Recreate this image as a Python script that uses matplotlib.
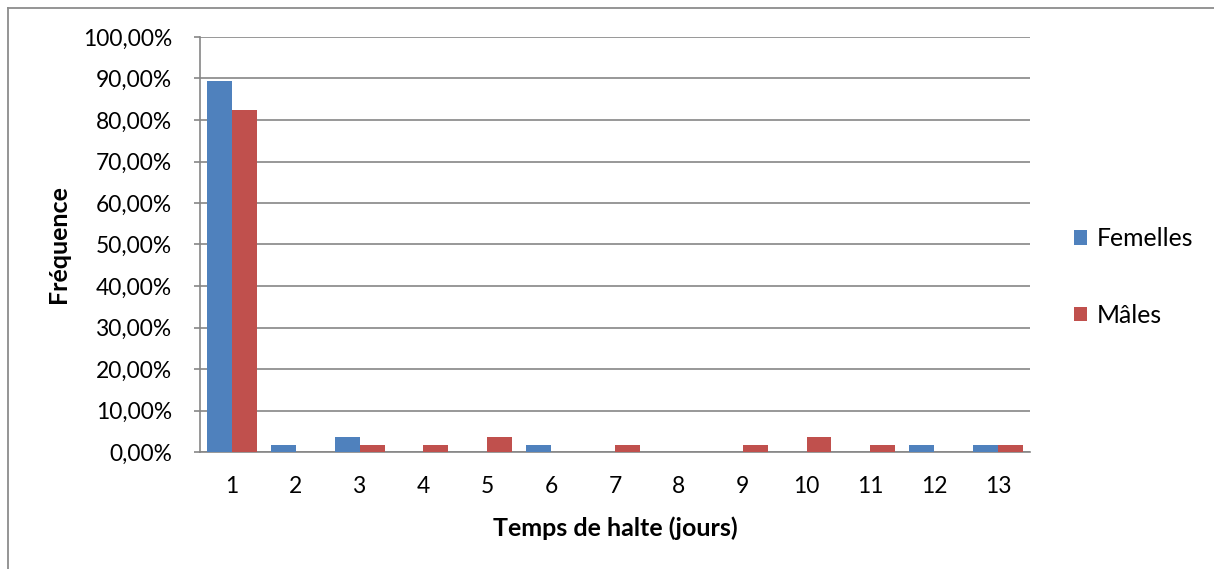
import matplotlib
matplotlib.use("Agg")
import matplotlib.pyplot as plt
from matplotlib.lines import Line2D
import numpy as np

plt.rcParams['font.family'] = ['Lato', 'DejaVu Sans']

categories = ["1", "2", "3", "4", "5", "6", "7", "8", "9", "10", "11", "12", "13"]
femelles = [89.47, 1.75, 3.51, 0, 0, 1.75, 0, 0, 0, 0, 0, 1.75, 1.75]
males = [82.46, 0, 1.75, 1.75, 3.51, 0, 1.75, 0, 1.75, 3.51, 1.75, 0, 1.75]
yticks = [0, 10, 20, 30, 40, 50, 60, 70, 80, 90, 100]
ytick_labels = ["0,00%", "10,00%", "20,00%", "30,00%", "40,00%", "50,00%",
                "60,00%", "70,00%", "80,00%", "90,00%", "100,00%"]

blue = "#4F81BD"
red = "#C0504D"
grid_c = "#868686"

fig = plt.figure(figsize=(12.14, 5.69), dpi=100)
ax = fig.add_axes([200 / 1214, 1 - 452 / 569, 830 / 1214, 415 / 569])

x = np.arange(len(categories))
w = 0.39
ax.bar(x - w / 2, femelles, w, color=blue, label="Femelles", zorder=3)
ax.bar(x + w / 2, males, w, color=red, label="Mâles", zorder=3)

ax.set_xlim(-0.5, len(categories) - 0.5)
ax.set_ylim(0, 100)
ax.set_yticks(yticks)
ax.set_yticklabels(ytick_labels, fontsize=16.4)
ax.set_xticks(x)
ax.set_xticklabels(categories, fontsize=16.4)
ax.tick_params(axis='x', length=0, pad=17)
ax.tick_params(axis='y', length=4, color=grid_c, width=1.2, pad=16)
ax.yaxis.grid(True, color=grid_c, linewidth=1.2, zorder=0)
for s in ["top", "right"]:
    ax.spines[s].set_visible(False)
for s in ["left", "bottom"]:
    ax.spines[s].set_color(grid_c)
    ax.spines[s].set_linewidth(1.2)

ax.set_xlabel("Temps de halte (jours)", fontsize=18, fontweight="bold", labelpad=14)
ax.set_ylabel("Fréquence", fontsize=18, fontweight="bold", labelpad=9)

leg = fig.legend(loc="center left", bbox_to_anchor=(1052 / 1214, 1 - 277 / 569),
                 frameon=False, fontsize=17.8, handlelength=0.52, handleheight=0.52,
                 labelspacing=2.15, handletextpad=0.4)

# outer chart frame
fig.add_artist(Line2D([8 / 1214, 8 / 1214], [0, 1 - 8 / 569], color="#8c8c8c", lw=1.3,
                      transform=fig.transFigure))
fig.add_artist(Line2D([8 / 1214, 1], [1 - 8 / 569, 1 - 8 / 569], color="#8c8c8c", lw=1.3,
                      transform=fig.transFigure))

fig.savefig("out.png", dpi=100)
